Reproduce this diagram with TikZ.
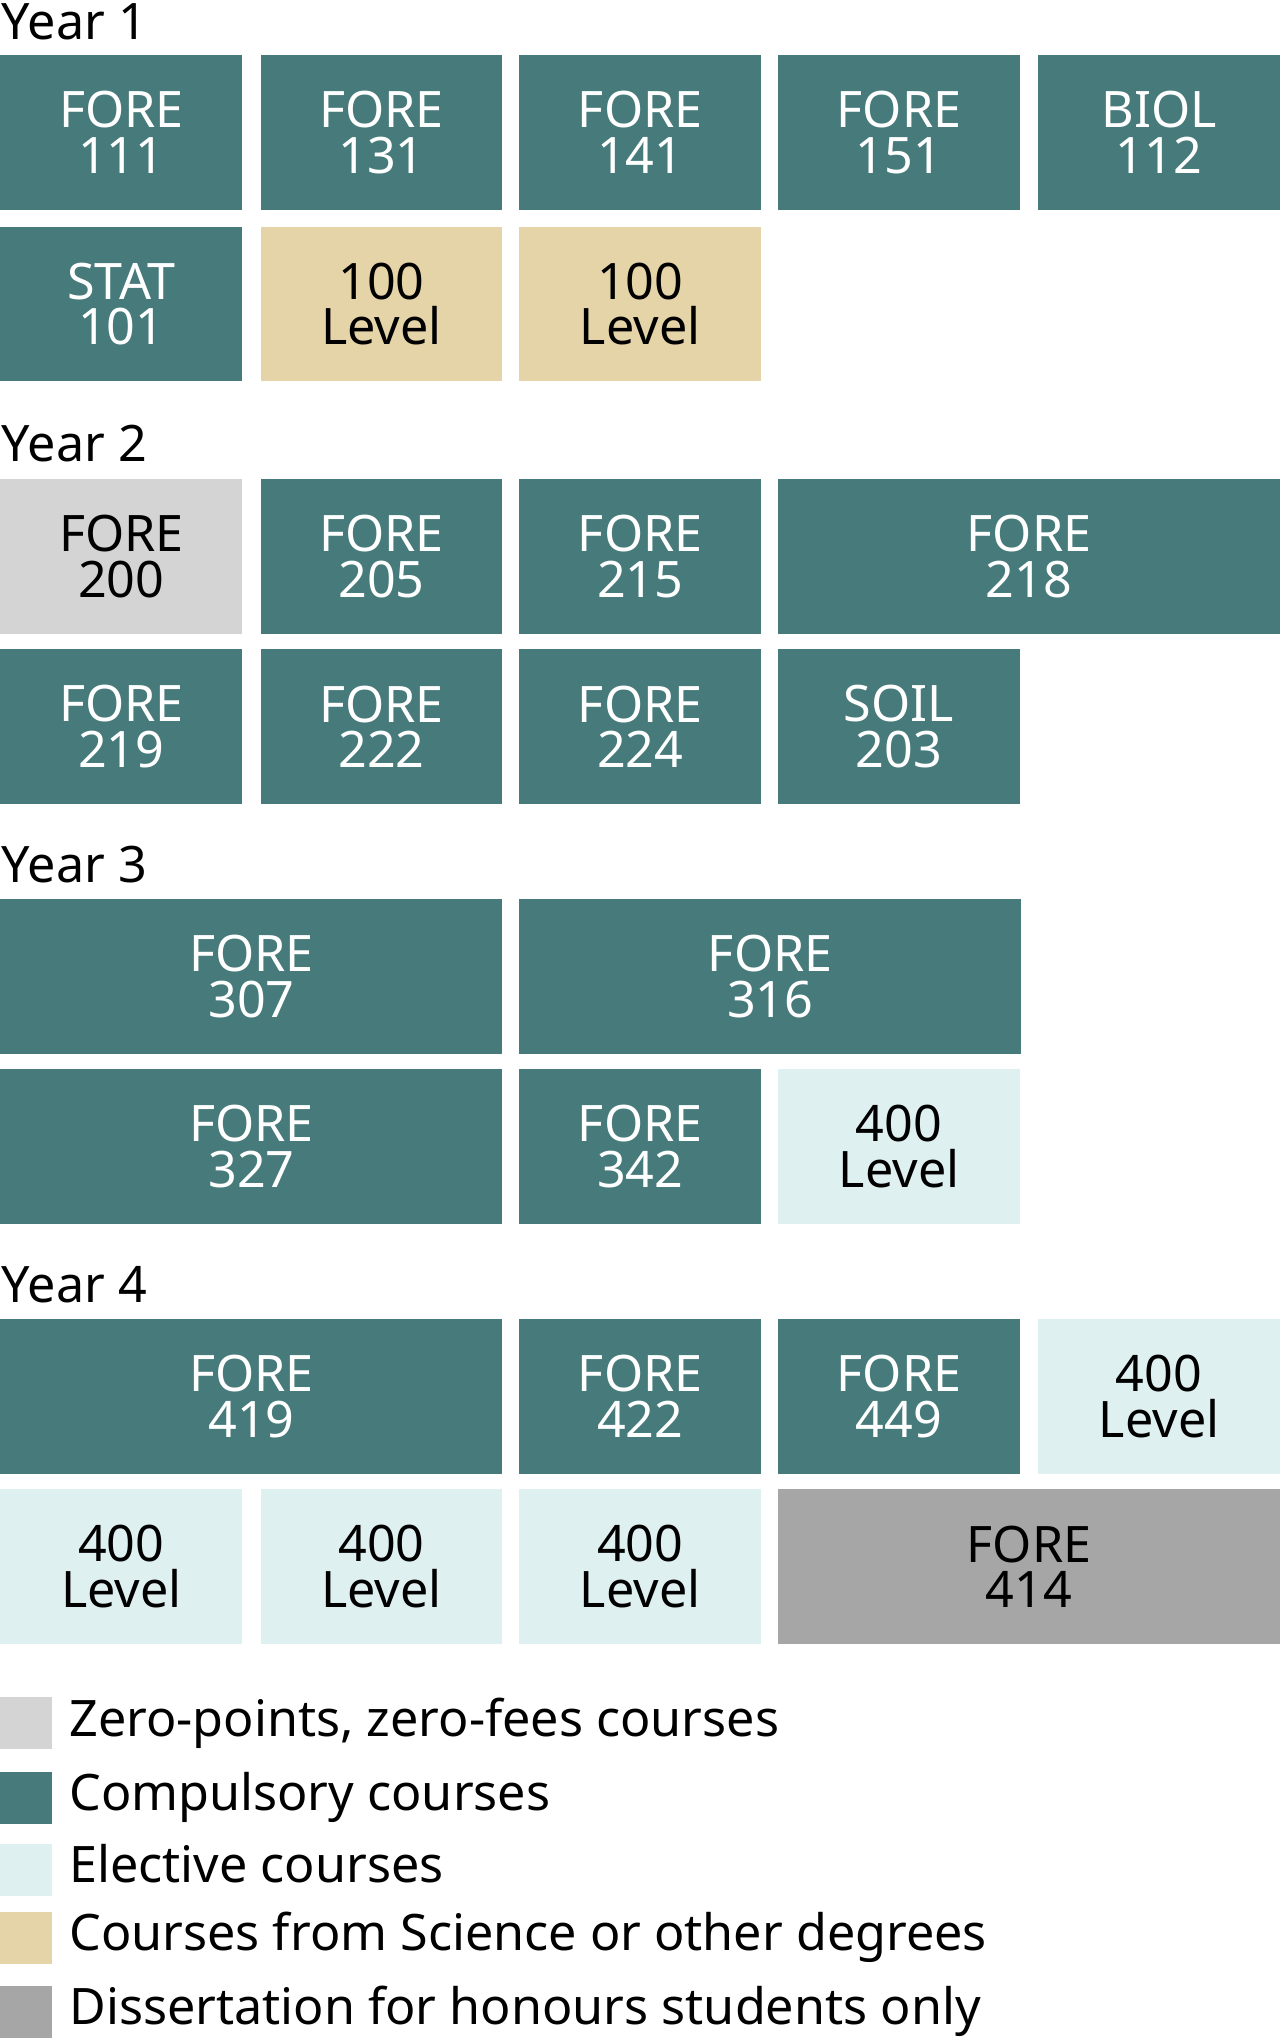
\documentclass[tikz,border=0pt]{standalone}
\usepackage{fontspec}
\setmainfont{Noto Sans}
\definecolor{compteal}{HTML}{477A7B}
\definecolor{sciencetan}{HTML}{E5D4A8}
\definecolor{zerogrey}{HTML}{D4D4D4}
\definecolor{electblue}{HTML}{DFF0F1}
\definecolor{disgrey}{HTML}{A6A6A6}
\tikzset{
  box/.style={anchor=north west, inner sep=0pt, minimum height=2.38cm, align=center,
    font=\fontsize{22}{20}\selectfont},
  single/.style={minimum width=3.72cm},
  double/.style={minimum width=7.72cm},
  comp/.style={box, fill=compteal, text=white},
  elect/.style={box, fill=electblue},
  sci/.style={box, fill=sciencetan},
  zero/.style={box, fill=zerogrey},
  diss/.style={box, fill=disgrey},
  yearlabel/.style={anchor=base west, inner sep=0pt, font=\fontsize{22}{24}\selectfont},
  legsq/.style={anchor=north west, inner sep=0pt, minimum size=0.8cm},
  legtext/.style={anchor=base west, inner sep=0pt, font=\fontsize{22}{24}\selectfont}
}
\begin{document}
\begin{tikzpicture}[x=0.02cm, y=-0.02cm]
\useasboundingbox (0,0) rectangle (984,1568);
% Year 1
\node[yearlabel] (y1) at (1,30) {Year 1};
\node[comp,single] (f111) at (0,42) {FORE\\111};
\node[comp,single] (f131) at (200,42) {FORE\\131};
\node[comp,single] (f141) at (399,42) {FORE\\141};
\node[comp,single] (f151) at (598,42) {FORE\\151};
\node[comp,single] (b112) at (798,42) {BIOL\\112};
\node[comp,single] (s101) at (0,174) {STAT\\101};
\node[sci,single] (sa) at (200,174) {100\\Level};
\node[sci,single] (sb) at (399,174) {100\\Level};
% Year 2
\node[yearlabel] (y2) at (1,355) {Year 2};
\node[zero,single] (f200) at (0,368) {FORE\\200};
\node[comp,single] (f205) at (200,368) {FORE\\205};
\node[comp,single] (f215) at (399,368) {FORE\\215};
\node[comp,double] (f218) at (598,368) {FORE\\218};
\node[comp,single] (f219) at (0,499) {FORE\\219};
\node[comp,single] (f222) at (200,499) {FORE\\222};
\node[comp,single] (f224) at (399,499) {FORE\\224};
\node[comp,single] (s203) at (598,499) {SOIL\\203};
% Year 3
\node[yearlabel] (y3) at (1,679) {Year 3};
\node[comp,double] (f307) at (0,691) {FORE\\307};
\node[comp,double] (f316) at (399,691) {FORE\\316};
\node[comp,double] (f327) at (0,822) {FORE\\327};
\node[comp,single] (f342) at (399,822) {FORE\\342};
\node[elect,single] (e3) at (598,822) {400\\Level};
% Year 4
\node[yearlabel] (y4) at (1,1002) {Year 4};
\node[comp,double] (f419) at (0,1014) {FORE\\419};
\node[comp,single] (f422) at (399,1014) {FORE\\422};
\node[comp,single] (f449) at (598,1014) {FORE\\449};
\node[elect,single] (e4a) at (798,1014) {400\\Level};
\node[elect,single] (e4b) at (0,1145) {400\\Level};
\node[elect,single] (e4c) at (200,1145) {400\\Level};
\node[elect,single] (e4d) at (399,1145) {400\\Level};
\node[diss,double] (f414) at (598,1145) {FORE\\414};
% legend
\foreach \c/\t/\yy [count=\i] in {zerogrey/{Zero-points, zero-fees courses}/1305,
    compteal/Compulsory courses/1362, electblue/Elective courses/1418,
    sciencetan/Courses from Science or other degrees/1470,
    disgrey/Dissertation for honours students only/1527} {
  \node[legsq, fill=\c] (sq\i) at (0,\yy) {};
  \node[legtext] (lt\i) at (53,\yy+30) {\t};
}
\end{tikzpicture}
\end{document}
